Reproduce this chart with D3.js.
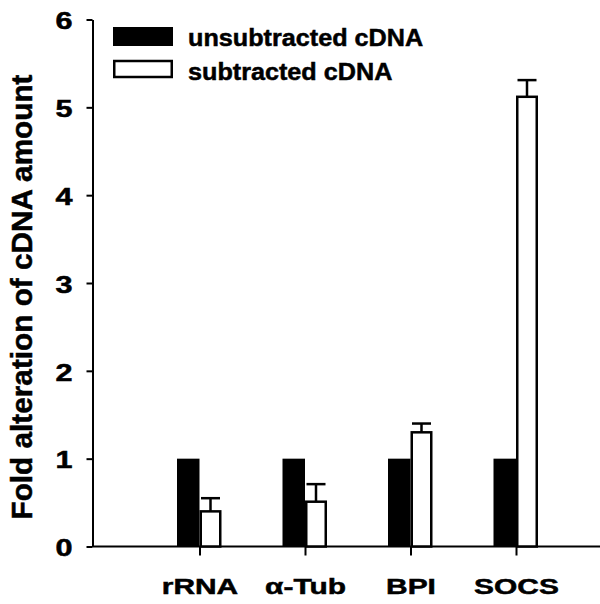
<!DOCTYPE html>
<html>
<head>
<meta charset="utf-8">
<script src="https://cdn.jsdelivr.net/npm/d3@7"></script>
<style>
  body { margin: 0; background: #fff; }
  text { font-family: "Liberation Sans", Arial, sans-serif; font-weight: bold; fill: #000; stroke: #000; stroke-width: 0.5px; }
</style>
</head>
<body>
<div id="chart"></div>
<script>
// data
const categories = ["rRNA", "\u03b1-Tub", "BPI", "SOCS"];
const unsubtracted = [1, 1, 1, 1];
const subtracted = [0.40, 0.51, 1.30, 5.12];
const subtractedErr = [0.15, 0.20, 0.10, 0.19];
const yTicks = [0, 1, 2, 3, 4, 5, 6];
const seriesNames = ["unsubtracted cDNA", "subtracted cDNA"];
const yLabel = "Fold alteration of cDNA amount";

const W = 600, H = 604;
const axisX = 92.5, axisY = 546.5;

const svg = d3.select("#chart").append("svg")
  .attr("width", W)
  .attr("height", H);

// scales
const y = d3.scaleLinear().domain([0, 6]).range([axisY, 19.5]);
const x = d3.scalePoint().domain(categories).range([199.5, 516]);
const barW = 22;

// y axis
const yAxis = svg.append("g")
  .attr("transform", `translate(${axisX},0)`)
  .call(d3.axisLeft(y).tickValues(yTicks).tickSize(6).tickSizeOuter(0).tickFormat(d3.format("d")));
yAxis.select(".domain").attr("stroke-width", 2);
yAxis.selectAll(".tick line").attr("stroke-width", 2);
yAxis.selectAll(".tick text")
  .attr("font-size", 23)
  .attr("x", -15)
  .attr("dy", "0.4em")
  .attr("transform", "scale(1.33,1)");

// x axis
const xAxis = svg.append("g")
  .attr("transform", `translate(0,${axisY})`)
  .call(d3.axisBottom(x).tickSize(9).tickSizeOuter(0));
xAxis.select(".domain").attr("d", `M${axisX},0H${W}`).attr("stroke-width", 2);
xAxis.selectAll(".tick line").attr("stroke-width", 2);
xAxis.selectAll(".tick text")
  .attr("font-size", 22.5)
  .attr("y", 47.5)
  .attr("dy", 0)
  .attr("transform", "scale(1.33,1)");

// bars
const bars = svg.append("g");
bars.selectAll("rect.unsub")
  .data(categories)
  .enter().append("rect")
  .attr("class", "unsub")
  .attr("x", d => x(d) - barW - 0.5)
  .attr("y", (d, i) => y(unsubtracted[i]))
  .attr("width", barW + 0.5)
  .attr("height", (d, i) => axisY - y(unsubtracted[i]))
  .attr("fill", "#000");

bars.selectAll("rect.sub")
  .data(categories)
  .enter().append("rect")
  .attr("class", "sub")
  .attr("x", d => x(d) + 1.25)
  .attr("y", (d, i) => y(subtracted[i]))
  .attr("width", barW - 2.5)
  .attr("height", (d, i) => axisY - y(subtracted[i]))
  .attr("fill", "#fff")
  .attr("stroke", "#000")
  .attr("stroke-width", 2.5);

// error bars (upper only)
const err = svg.append("g").attr("stroke", "#000").attr("stroke-width", 2.5);
categories.forEach((c, i) => {
  const cx = x(c) + 1.25 + (barW - 2.5) / 2;
  const top = y(subtracted[i] + subtractedErr[i]);
  err.append("line")
    .attr("x1", cx).attr("x2", cx)
    .attr("y1", y(subtracted[i])).attr("y2", top);
  err.append("line")
    .attr("x1", cx - 9.5).attr("x2", cx + 9.5)
    .attr("y1", top).attr("y2", top);
});

// legend
const legend = svg.append("g");
legend.append("rect")
  .attr("x", 113).attr("y", 27).attr("width", 60).attr("height", 19)
  .attr("fill", "#000");
legend.append("rect")
  .attr("x", 114.25).attr("y", 61).attr("width", 57.5).attr("height", 16)
  .attr("fill", "#fff").attr("stroke", "#000").attr("stroke-width", 2.5);
legend.selectAll("text")
  .data(seriesNames)
  .enter().append("text")
  .attr("x", 188 / 1.05)
  .attr("y", (d, i) => 46 + i * 34)
  .attr("font-size", 24)
  .attr("transform", "scale(1.05,1)")
  .text(d => d);

// y axis title
svg.append("text")
  .attr("transform", "translate(32,297) rotate(-90)")
  .attr("text-anchor", "middle")
  .attr("font-size", 30)
  .attr("textLength", 445)
  .attr("lengthAdjust", "spacingAndGlyphs")
  .text(yLabel);
</script>
</body>
</html>
